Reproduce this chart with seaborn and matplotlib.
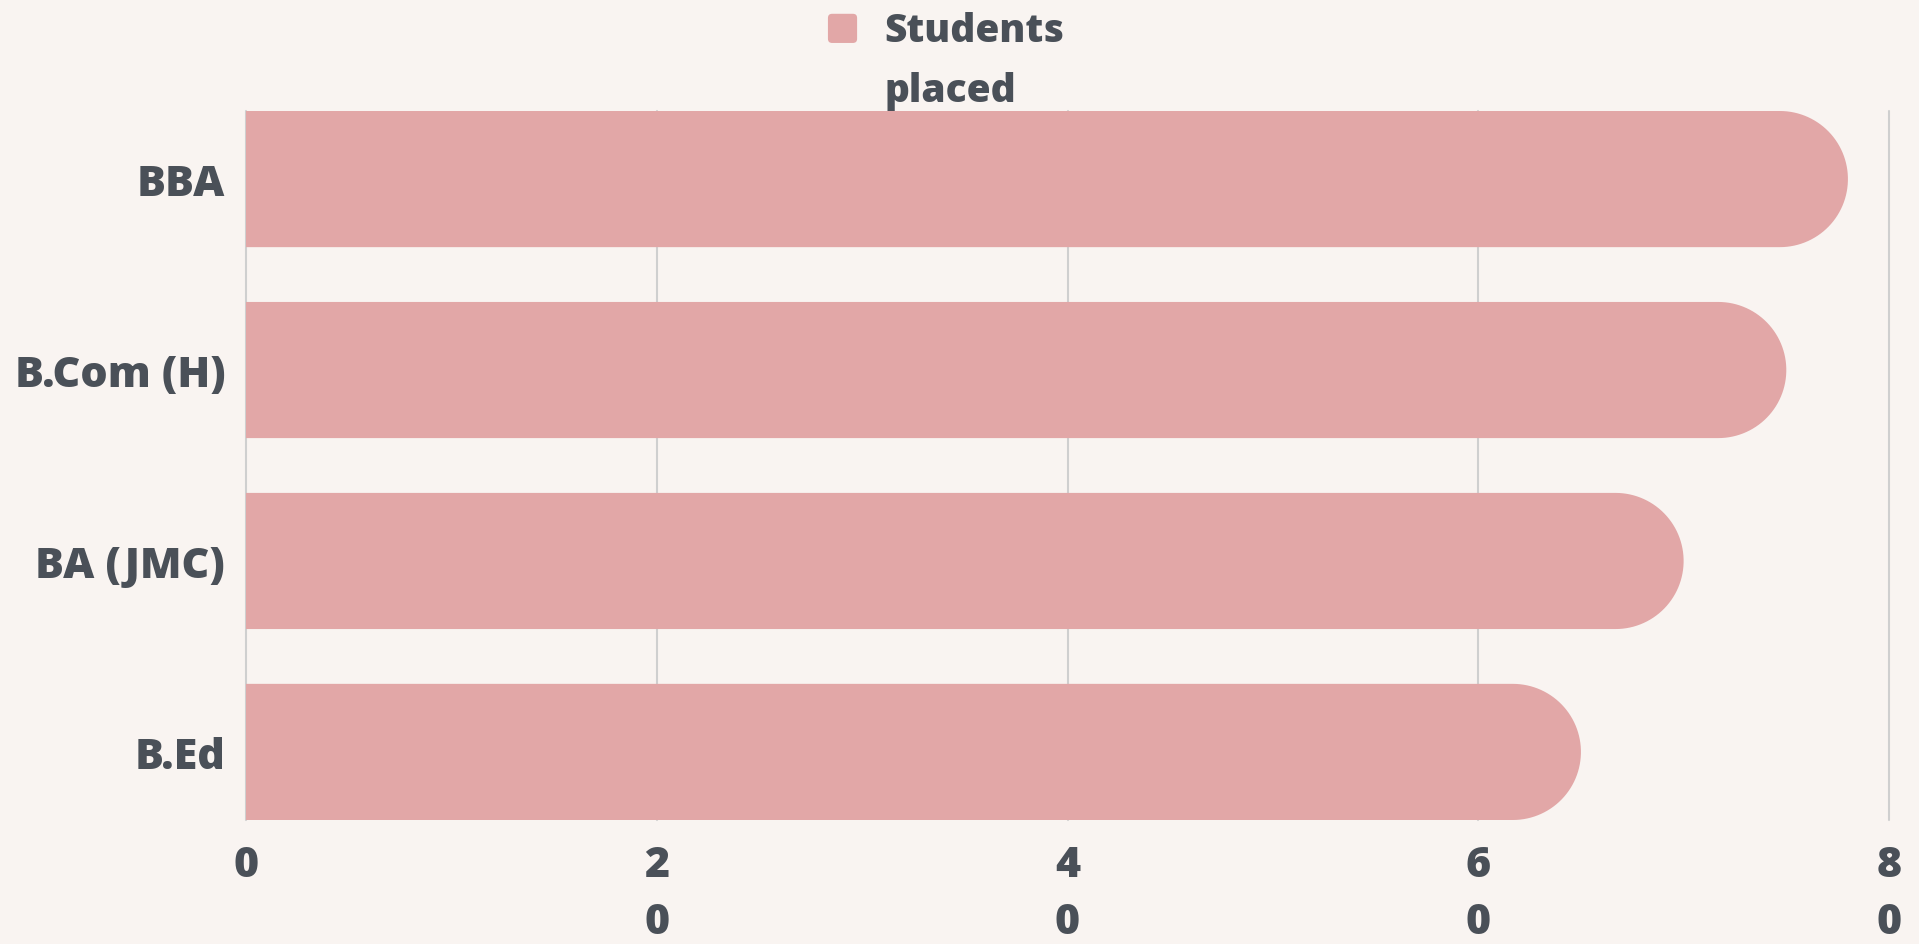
import numpy as np
import pandas as pd
import matplotlib.pyplot as plt
import seaborn as sns
from matplotlib.patches import Polygon, Patch, FancyBboxPatch
from matplotlib.legend_handler import HandlerPatch

# data
courses = ["BBA", "B.Com (H)", "BA (JMC)", "B.Ed"]
placed = [78, 75, 70, 65]
x_ticks = [0, 20, 40, 60, 80]
series_name = "Students\nplaced"

bg = "#f9f4f1"
bar_color = "#e2a7a7"
text_color = "#4a5058"
grid_color = "#cfcfcf"

sns.set_theme(style="white")
plt.rcParams['font.family'] = ['Open Sans', 'DejaVu Sans']
plt.rcParams['font.weight'] = 'heavy'

df = pd.DataFrame({"course": courses, "placed": placed})

fig = plt.figure(figsize=(19.19, 9.45), dpi=100, facecolor=bg)
ax = fig.add_axes([246 / 1919, 1 - 821 / 945, (1889 - 246) / 1919, (821 - 112) / 945])
ax.set_facecolor(bg)

bar_h = 0.713
sns.barplot(data=df, x="placed", y="course", orient="h", color=bar_color,
            saturation=1, width=bar_h, ax=ax, zorder=2)
ax.set_xlim(0, 80)
ax.set_ylim(len(courses) - 1 + bar_h / 2, -bar_h / 2)

# replace the rectangles with bars that have a round right end
bb = ax.get_window_extent()
px_x = bb.width / 80
px_y = bb.height / (len(courses) - 1 + bar_h)
for p in list(ax.patches):
    x0, y0, w, h = p.get_x(), p.get_y(), p.get_width(), p.get_height()
    ry = h / 2
    rx = ry * px_y / px_x
    yc = y0 + ry
    t = np.linspace(-np.pi / 2, np.pi / 2, 60)
    arc = np.column_stack([x0 + w - rx + rx * np.cos(t), yc + ry * np.sin(t)])
    pts = np.vstack([[x0, y0], arc, [x0, y0 + h]])
    p.set_visible(False)
    ax.add_patch(Polygon(pts, closed=True, facecolor=bar_color, edgecolor='none', zorder=2))

ax.grid(axis='x', color=grid_color, linewidth=1.5, zorder=0)
ax.grid(axis='y', visible=False)
ax.set_axisbelow(True)
for gl in ax.get_xgridlines():
    gl.set_clip_on(False)
sns.despine(ax=ax, left=True, bottom=True)

ax.set_xticks(x_ticks, labels=['\n'.join(str(v)) for v in x_ticks])
for lab in ax.get_xticklabels():
    lab.set_linespacing(1.47)
ax.tick_params(axis='x', length=0, pad=17, labelsize=31, labelcolor=text_color)
ax.tick_params(axis='y', length=0, pad=15, labelsize=31, labelcolor=text_color)
ax.set_xlabel('')
ax.set_ylabel('')


# legend square sits level with the first line of the label
def top_square(legend, orig_handle, xdescent, ydescent, width, height, fontsize):
    s = 0.75 * fontsize
    return FancyBboxPatch((-xdescent + width - s, -ydescent + height - s + 0.4 * fontsize), s, s,
                          boxstyle="round,pad=0,rounding_size=3")


handle = Patch(facecolor=bar_color, edgecolor='none', label=series_name)
leg = fig.legend(handles=[handle], loc='upper center', bbox_to_anchor=(0.493, 1.008),
                 frameon=False, fontsize=28, handlelength=0.75, handleheight=2.3,
                 handletextpad=0.7, borderaxespad=0.1,
                 handler_map={Patch: HandlerPatch(patch_func=top_square)})
for txt in leg.get_texts():
    txt.set_color(text_color)
    txt.set_linespacing(1.69)

fig.savefig("out.png", dpi=100, facecolor=bg)
